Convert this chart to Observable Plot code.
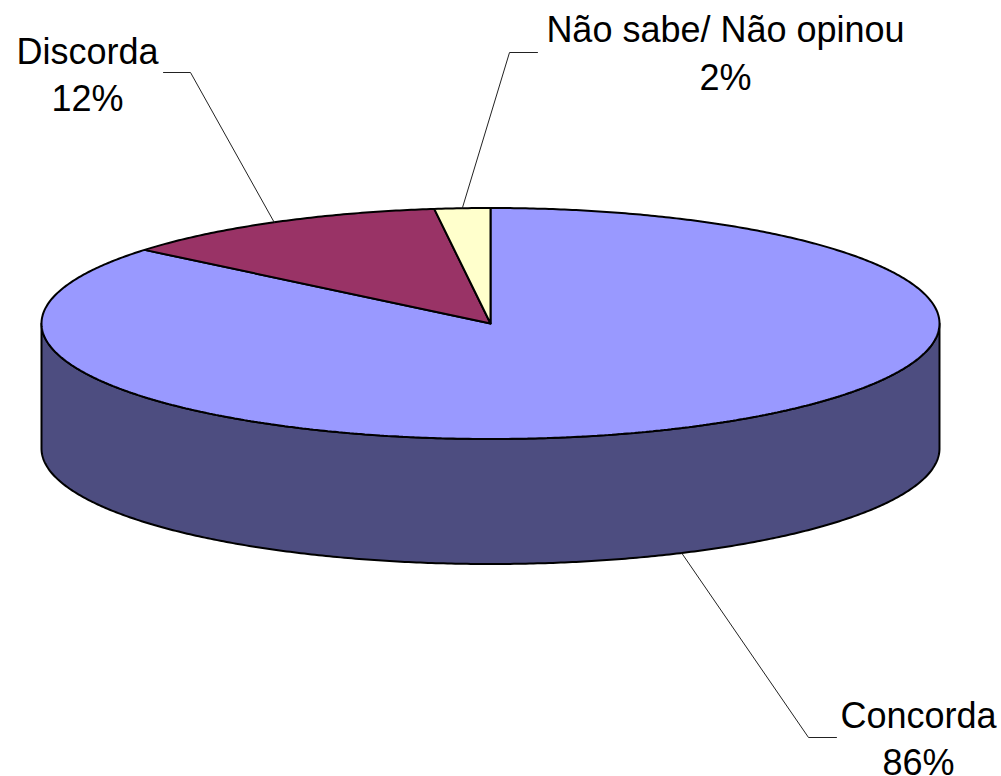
<!DOCTYPE html>
<html>
<head>
<meta charset="utf-8">
<script src="https://cdn.jsdelivr.net/npm/d3@7"></script>
<script src="https://cdn.jsdelivr.net/npm/@observablehq/plot@0.6"></script>
<style>
  html, body { margin: 0; padding: 0; background: #fff; }
  #chart svg { display: block; }
</style>
</head>
<body>
<div id="chart"></div>
<script>
// ---- data ----
const categories = ["Concorda", "Discorda", "Não sabe/ Não opinou"];
const values = [86, 12, 2];
const percentLabels = ["86%", "12%", "2%"];
const colors = ["#9999FF", "#993366", "#FFFFCC"];
const sideColor = "#4D4D80";

// ---- layout (pixels) ----
const W = 1001, H = 776;
const cx = 490, cy = 323, rx = 449, ry = 115.5, depth = 125;
const depthU = depth / ry;
// label layout: elbow, end of horizontal tick, text centre x, baselines
const labelLayout = [
  {elbow: [808, 737], end: [836, 737], tx: 918, base: [727, 774], onBottom: true},
  {elbow: [190, 72], end: [163, 72], tx: 87, base: [63, 110], onBottom: false},
  {elbow: [509, 52], end: [537, 52], tx: 725, base: [41, 89], onBottom: false}
];
const fontSize = 36;

const toUX = px => (px - cx) / rx;
const toUY = py => (cy - py) / ry;

// ---- geometry from values ----
const total = d3.sum(values);
let acc = 0;
const slices = values.map((v, i) => {
  const t0 = acc / total * 2 * Math.PI;
  acc += v;
  const t1 = acc / total * 2 * Math.PI;
  return {name: categories[i], t0, t1, color: colors[i], i};
});

function arcPts(t0, t1, yOff = 0) {
  const n = Math.max(2, Math.ceil(Math.abs(t1 - t0) / (Math.PI / 360)));
  const pts = [];
  for (let k = 0; k <= n; k++) {
    const t = t0 + (t1 - t0) * k / n;
    pts.push({x: Math.sin(t), y: Math.cos(t) + yOff});
  }
  return pts;
}

// front side wall (visible half, t from 90° to 270°)
const sidePts = [
  ...arcPts(Math.PI / 2, 3 * Math.PI / 2, 0),
  ...arcPts(3 * Math.PI / 2, Math.PI / 2, -depthU)
];
sidePts.push(sidePts[0]);

const slicePolys = slices.map(s => {
  const pts = [{x: 0, y: 0}, ...arcPts(s.t0, s.t1, 0), {x: 0, y: 0}];
  return {s, pts};
});

// leader lines
const leaders = slices.map((s, i) => {
  const L = labelLayout[i];
  const tm = (s.t0 + s.t1) / 2;
  const start = {x: Math.sin(tm), y: Math.cos(tm) - (L.onBottom ? depthU : 0)};
  return [
    start,
    {x: toUX(L.elbow[0]), y: toUY(L.elbow[1])},
    {x: toUX(L.end[0]), y: toUY(L.end[1])}
  ];
});

const textRows = [];
slices.forEach((s, i) => {
  const L = labelLayout[i];
  [categories[i], percentLabels[i]].forEach((txt, j) => {
    textRows.push({x: toUX(L.tx), y: toUY(L.base[j] - 0.32 * fontSize), text: txt});
  });
});

const marks = [
  Plot.line(sidePts, {x: "x", y: "y", fill: sideColor, stroke: "black", strokeWidth: 2, strokeLinejoin: "round", curve: "linear"}),
  ...slicePolys.map(({s, pts}) =>
    Plot.line(pts, {x: "x", y: "y", fill: s.color, stroke: "black", strokeWidth: 2, strokeLinejoin: "miter", curve: "linear"})),
  ...leaders.map(pts => Plot.line(pts, {x: "x", y: "y", stroke: "#222", strokeWidth: 1, curve: "linear"})),
  Plot.text(textRows, {x: "x", y: "y", text: "text", fontSize, fill: "black", textAnchor: "middle", lineAnchor: "middle"})
];

const chart = Plot.plot({
  width: W,
  height: H,
  margin: 0,
  style: {background: "white", fontFamily: "'Liberation Sans', Arial, sans-serif"},
  x: {domain: [-1, 1], range: [cx - rx, cx + rx], axis: null},
  y: {domain: [-1, 1], range: [cy + ry, cy - ry], axis: null},
  marks
});
document.getElementById("chart").appendChild(chart);
</script>
</body>
</html>
